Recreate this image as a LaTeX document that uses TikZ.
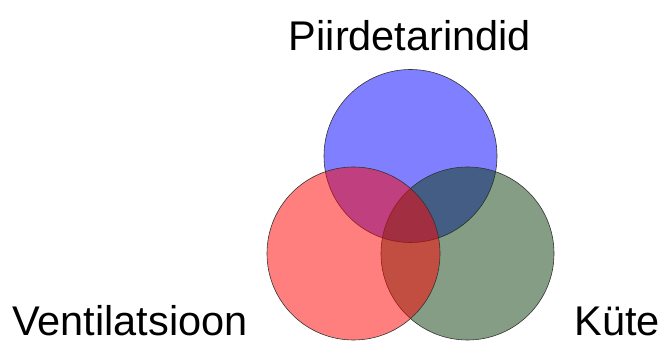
\documentclass[tikz,border=0pt]{standalone}
\usepackage{fontspec}
\setmainfont{Liberation Sans}
\usepackage{tikz}
\usetikzlibrary{positioning}

\definecolor{piireblue}{RGB}{0,0,255}
\definecolor{ventred}{RGB}{255,0,0}
\definecolor{kytegreen}{RGB}{10,60,10}

\begin{document}
\begin{tikzpicture}[
    x=1pt, y=-1pt,
    set/.style={circle, draw=black!80, line width=0.6pt, minimum size=173pt, inner sep=0pt, fill opacity=0.5},
    label/.style={inner sep=0pt, font=\fontsize{41.5}{48}\selectfont, text=black}
]
\useasboundingbox (0,0) rectangle (668,344);

% Sets (drawn bottom to top)
\node[set, fill=piireblue] (piire) at (410.5, 156) {};
\node[set, fill=kytegreen] (kyte) at (467.5, 253.5) {};
\node[set, fill=ventred] (vent) at (353.5, 253.5) {};

% Set names
\node[label, anchor=base] (piirelbl) at (410, 51) {Piirdetarindid};
\node[label, anchor=base west] (ventlbl) at (12, 335) {Ventilatsioon};
\node[label, anchor=base east] (kytelbl) at (660, 335) {Küte};

\end{tikzpicture}
\end{document}
